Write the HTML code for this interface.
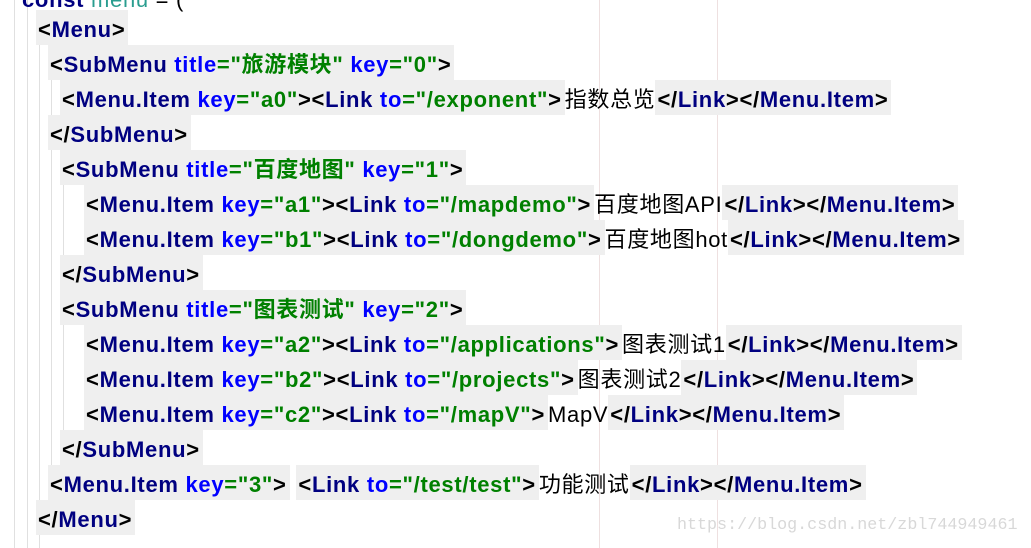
<!DOCTYPE html>
<html><head><meta charset="utf-8"><style>
html,body{margin:0;padding:0;background:#fff;width:1031px;height:548px;overflow:hidden;position:relative}
.l{position:absolute;white-space:nowrap;font:bold 22px "Liberation Sans","Noto Sans CJK SC",sans-serif;letter-spacing:0.7px;height:35px;line-height:39px}
.g{background:#efefef;display:inline-block;height:35px;padding:0 3px 0 2px;vertical-align:top}
.t{color:#000080}.a{color:#0000ff}.s{color:#008000}.p{color:#000}
.c{color:#000;font-weight:normal;font-family:"Liberation Sans","Noto Sans CJK SC",sans-serif;display:inline-block;vertical-align:top}
.v{position:absolute;top:0;bottom:0;width:1px;background:#e0e0e0}
.wm{position:absolute;left:677px;top:516px;font:16.7px "Liberation Mono",monospace;color:#d8d8d8;white-space:nowrap}
</style></head><body>
<div class="v" style="left:14px"></div>
<div class="v" style="left:27px"></div>
<div class="v" style="left:39px;top:45px"></div>
<div class="v" style="left:51px;top:80px;bottom:48px"></div>
<div class="v" style="left:63px;top:185px;bottom:293px"></div>
<div class="v" style="left:63px;top:325px;bottom:118px"></div>
<div class="v" style="left:599px;background:#eee0e0"></div>
<div class="v" style="left:717px;background:#eee0e0"></div>

<div class="l" style="left:22px;top:-20px"><span class="t">const </span><span style="color:#2a9d8f;font-weight:normal">menu</span><span class="p" style="font-weight:normal"> = (</span></div>

<div class="l" style="left:36px;top:10px"><span class="g"><span class="p">&lt;</span><span class="t">Menu</span><span class="p">&gt;</span></span></div>

<div class="l" style="left:48px;top:45px"><span class="g"><span class="p">&lt;</span><span class="t">SubMenu </span><span class="a">title</span><span class="s">="旅游模块" </span><span class="a">key</span><span class="s">="0"</span><span class="p">&gt;</span></span></div>

<div class="l" style="left:60px;top:80px"><span class="g"><span class="p">&lt;</span><span class="t">Menu.Item </span><span class="a">key</span><span class="s">="a0"</span><span class="p">&gt;&lt;</span><span class="t">Link </span><span class="a">to</span><span class="s">="/exponent"</span><span class="p">&gt;</span></span><span class="c">指数总览</span><span class="g"><span class="p">&lt;/</span><span class="t">Link</span><span class="p">&gt;&lt;/</span><span class="t">Menu.Item</span><span class="p">&gt;</span></span></div>

<div class="l" style="left:48px;top:115px"><span class="g"><span class="p">&lt;/</span><span class="t">SubMenu</span><span class="p">&gt;</span></span></div>

<div class="l" style="left:60px;top:150px"><span class="g"><span class="p">&lt;</span><span class="t">SubMenu </span><span class="a">title</span><span class="s">="百度地图" </span><span class="a">key</span><span class="s">="1"</span><span class="p">&gt;</span></span></div>

<div class="l" style="left:84px;top:185px"><span class="g"><span class="p">&lt;</span><span class="t">Menu.Item </span><span class="a">key</span><span class="s">="a1"</span><span class="p">&gt;&lt;</span><span class="t">Link </span><span class="a">to</span><span class="s">="/mapdemo"</span><span class="p">&gt;</span></span><span class="c">百度地图API</span><span class="g"><span class="p">&lt;/</span><span class="t">Link</span><span class="p">&gt;&lt;/</span><span class="t">Menu.Item</span><span class="p">&gt;</span></span></div>

<div class="l" style="left:84px;top:220px"><span class="g"><span class="p">&lt;</span><span class="t">Menu.Item </span><span class="a">key</span><span class="s">="b1"</span><span class="p">&gt;&lt;</span><span class="t">Link </span><span class="a">to</span><span class="s">="/dongdemo"</span><span class="p">&gt;</span></span><span class="c">百度地图hot</span><span class="g"><span class="p">&lt;/</span><span class="t">Link</span><span class="p">&gt;&lt;/</span><span class="t">Menu.Item</span><span class="p">&gt;</span></span></div>

<div class="l" style="left:60px;top:255px"><span class="g"><span class="p">&lt;/</span><span class="t">SubMenu</span><span class="p">&gt;</span></span></div>

<div class="l" style="left:60px;top:290px"><span class="g"><span class="p">&lt;</span><span class="t">SubMenu </span><span class="a">title</span><span class="s">="图表测试" </span><span class="a">key</span><span class="s">="2"</span><span class="p">&gt;</span></span></div>

<div class="l" style="left:84px;top:325px"><span class="g"><span class="p">&lt;</span><span class="t">Menu.Item </span><span class="a">key</span><span class="s">="a2"</span><span class="p">&gt;&lt;</span><span class="t">Link </span><span class="a">to</span><span class="s">="/applications"</span><span class="p">&gt;</span></span><span class="c">图表测试1</span><span class="g"><span class="p">&lt;/</span><span class="t">Link</span><span class="p">&gt;&lt;/</span><span class="t">Menu.Item</span><span class="p">&gt;</span></span></div>

<div class="l" style="left:84px;top:360px"><span class="g"><span class="p">&lt;</span><span class="t">Menu.Item </span><span class="a">key</span><span class="s">="b2"</span><span class="p">&gt;&lt;</span><span class="t">Link </span><span class="a">to</span><span class="s">="/projects"</span><span class="p">&gt;</span></span><span class="c">图表测试2</span><span class="g"><span class="p">&lt;/</span><span class="t">Link</span><span class="p">&gt;&lt;/</span><span class="t">Menu.Item</span><span class="p">&gt;</span></span></div>

<div class="l" style="left:84px;top:395px"><span class="g"><span class="p">&lt;</span><span class="t">Menu.Item </span><span class="a">key</span><span class="s">="c2"</span><span class="p">&gt;&lt;</span><span class="t">Link </span><span class="a">to</span><span class="s">="/mapV"</span><span class="p">&gt;</span></span><span class="c">MapV</span><span class="g"><span class="p">&lt;/</span><span class="t">Link</span><span class="p">&gt;&lt;/</span><span class="t">Menu.Item</span><span class="p">&gt;</span></span></div>

<div class="l" style="left:60px;top:430px"><span class="g"><span class="p">&lt;/</span><span class="t">SubMenu</span><span class="p">&gt;</span></span></div>

<div class="l" style="left:48px;top:465px"><span class="g"><span class="p">&lt;</span><span class="t">Menu.Item </span><span class="a">key</span><span class="s">="3"</span><span class="p">&gt;</span></span> <span class="g"><span class="p">&lt;</span><span class="t">Link </span><span class="a">to</span><span class="s">="/test/test"</span><span class="p">&gt;</span></span><span class="c">功能测试</span><span class="g"><span class="p">&lt;/</span><span class="t">Link</span><span class="p">&gt;&lt;/</span><span class="t">Menu.Item</span><span class="p">&gt;</span></span></div>

<div class="l" style="left:36px;top:500px"><span class="g"><span class="p">&lt;/</span><span class="t">Menu</span><span class="p">&gt;</span></span></div>

<div class="wm">https://blog.csdn.net/zbl744949461</div>
</body></html>
